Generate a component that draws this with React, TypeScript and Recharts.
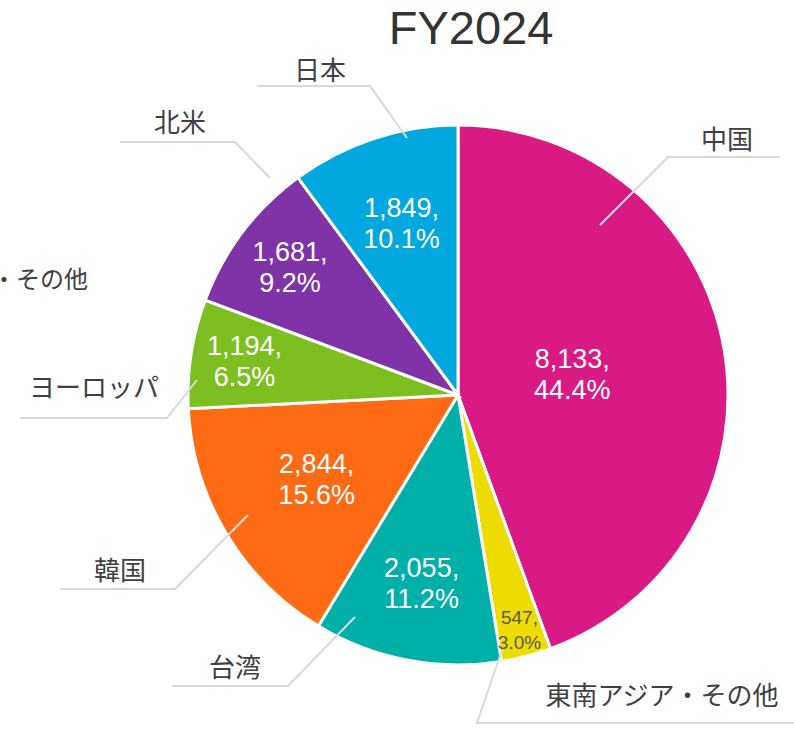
import React from "react";
import { PieChart, Pie, Cell } from "recharts";

const categories = ["中国", "東南アジア・その他", "台湾", "韓国", "ヨーロッパ", "北米", "日本"];
const values = [8133, 547, 2055, 2844, 1194, 1681, 1849];
const percentLabels = ["44.4%", "3.0%", "11.2%", "15.6%", "6.5%", "9.2%", "10.1%"];
const extraLabels = ["", "", "", "", "", "・その他", ""];
const title = "FY2024";

const colors = ["#DA1A84", "#EEDC00", "#00B0A8", "#FF6B14", "#7DBE21", "#7F33A7", "#00A8DF"];

// label layout, in pixels relative to the pie centre for an outer radius of 270
const layout = [
  { inR: 0.43, s: [142, -170], e: [210, -238], end: 322, t: [269, -258] },
  { inR: 0.9, s: [44, 255], e: [19, 328], end: 336, t: [204, 298] },
  { inR: 0.71, s: [-103, 222], e: [-170, 291], end: -286, t: [-223, 270] },
  { inR: 0.61, s: [-210, 120], e: [-283, 194], end: -398, t: [-338, 173] },
  { inR: 0.8, s: [-261, -15], e: [-291, 23], end: -438, t: [-364, -10] },
  { inR: 0.78, s: [-188, -217], e: [-223, -253], end: -338, t: [-278, -275], x: [-370, -118] },
  { inR: 0.67, s: [-51, -257], e: [-88, -309], end: -201, t: [-138, -327] },
];

const data = categories.map((name, i) => ({ name, value: values[i] }));
const FONT = "'Liberation Sans', 'Noto Sans CJK JP', sans-serif";
const CJK = "'Noto Sans CJK JP', 'Liberation Sans', sans-serif";
const RAD = Math.PI / 180;

const renderLabel = (props: any) => {
  const { cx, cy, midAngle, outerRadius, index, value } = props;
  const L = layout[index];
  const k = outerRadius / 270;
  const r = outerRadius * L.inR;
  const lx = cx + r * Math.cos(-midAngle * RAD);
  const ly = cy + r * Math.sin(-midAngle * RAD);
  const small = index === 1;
  const p = (v: number[]) => [cx + v[0] * k, cy + v[1] * k];
  const [sx, sy] = p(L.s);
  const [ex, ey] = p(L.e);
  const endX = cx + L.end * k;
  const [tx, ty] = p(L.t);
  const fs = small ? 19 : 27;
  const gap = small ? 12.5 : 15.5;
  return (
    <g>
      <polyline
        points={`${sx},${sy} ${ex},${ey} ${endX},${ey}`}
        fill="none"
        stroke="#D9D9D9"
        strokeWidth={2}
      />
      <text
        x={lx}
        y={ly - gap}
        textAnchor="middle"
        dominantBaseline="central"
        fill={small ? "#595959" : "#FFFFFF"}
        fontSize={fs}
        fontFamily={FONT}
      >
        {value.toLocaleString("en-US")},
      </text>
      <text
        x={lx}
        y={ly + gap}
        textAnchor="middle"
        dominantBaseline="central"
        fill={small ? "#595959" : "#FFFFFF"}
        fontSize={fs}
        fontFamily={FONT}
      >
        {percentLabels[index]}
      </text>
      <text
        x={tx}
        y={ty}
        textAnchor="middle"
        dominantBaseline="central"
        fill="#404040"
        fontSize={26}
        fontFamily={CJK}
      >
        {categories[index]}
      </text>
      {extraLabels[index] && L.x ? (
        <text
          x={cx + L.x[0] * k}
          y={cy + L.x[1] * k}
          textAnchor="end"
          dominantBaseline="central"
          fill="#404040"
          fontSize={24}
          fontFamily={CJK}
        >
          {extraLabels[index]}
        </text>
      ) : null}
    </g>
  );
};

export default function App() {
  return (
    <div style={{ position: "absolute", left: 0, top: 0, width: 794, height: 731, background: "#fff" }}>
      <div style={{ position: "absolute", left: 0, top: 0 }}>
        <PieChart width={794} height={731} margin={{ top: 0, right: 0, bottom: 0, left: 0 }}>
          <text
            x={471}
            y={44}
            textAnchor="middle"
            fontSize={47}
            fontFamily={FONT}
            fill="#333333"
          >
            {title}
          </text>
          <Pie
            data={data}
            dataKey="value"
            nameKey="name"
            cx={458}
            cy={395}
            outerRadius={270}
            startAngle={90}
            endAngle={-270}
            stroke="#FFFFFF"
            strokeWidth={3}
            label={renderLabel}
            labelLine={false}
            isAnimationActive={false}
          >
            {data.map((d, i) => (
              <Cell key={d.name} fill={colors[i]} />
            ))}
          </Pie>
        </PieChart>
      </div>
    </div>
  );
}
